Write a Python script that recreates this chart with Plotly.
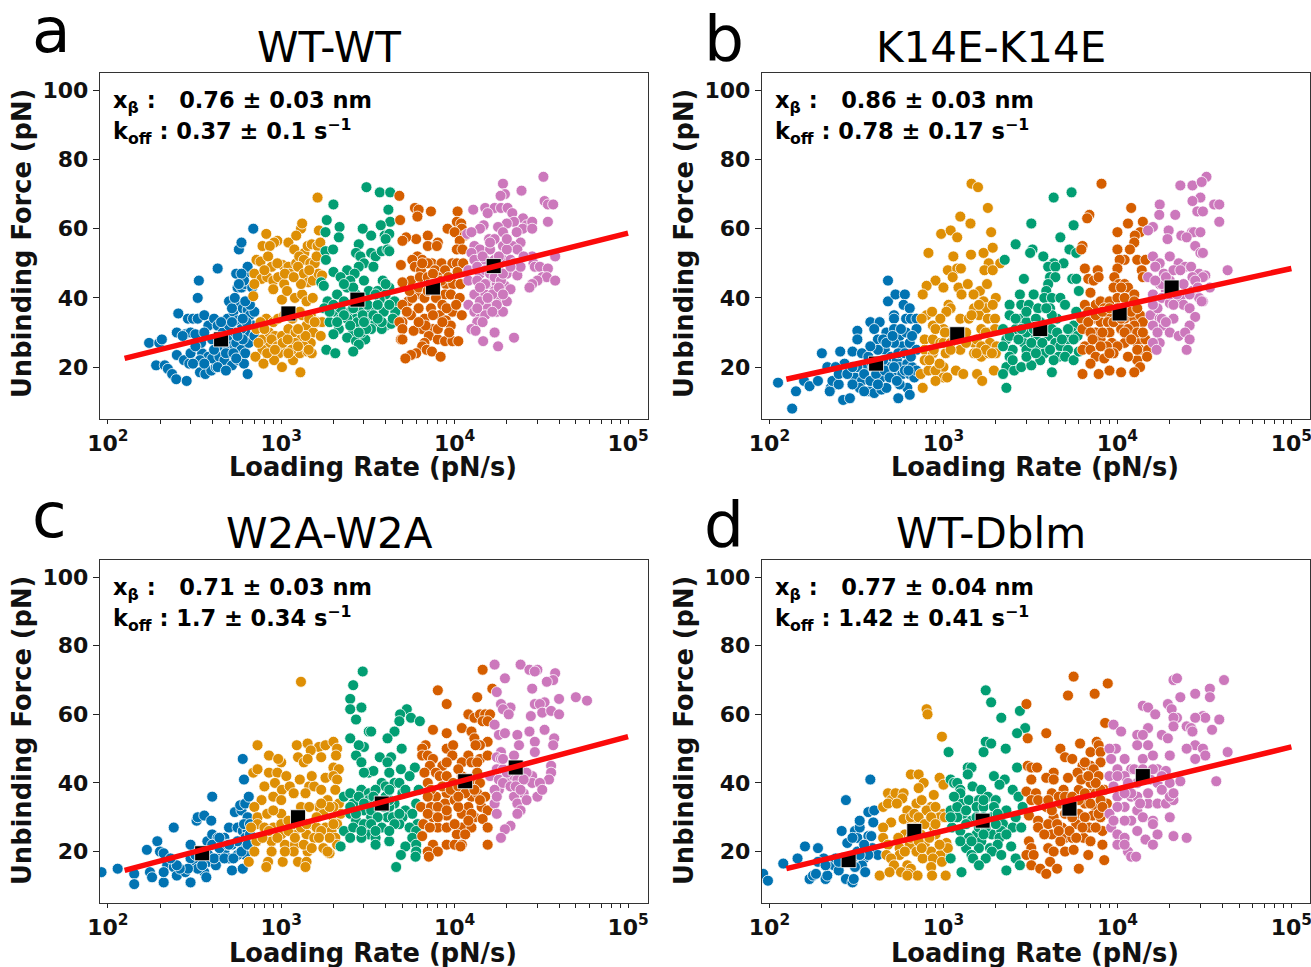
import plotly.graph_objects as go

COLORS = ["#0173b2", "#de8f05", "#029e73", "#d55e00", "#cc78bc"]
PANEL_TITLES = ["WT-WT", "K14E-K14E", "W2A-W2A", "WT-Dblm"]
PANEL_LETTERS = ["a", "b", "c", "d"]
XB_TEXT = ["0.76 ± 0.03 nm", "0.86 ± 0.03 nm", "0.71 ± 0.03 nm", "0.77 ± 0.04 nm"]
KOFF_TEXT = ["0.37 ± 0.1", "0.78 ± 0.17", "1.7 ± 0.34", "1.42 ± 0.41"]

A_BLUE = [(173,27),(198,27),(205,28),(190,20.5),(213,20.5),(222,19.5),(235,18),(248,16.5),(285,16),(250,23.5),(250,30),(255,35.5),(290,34),(310,34),(330,34),(360,35),(330,40),(335,45),(430,48.5),(570,54),(590,56),(690,60),(280,29.5),(300,30),(320,29.5),(275,22),(295,21),(340,18.5),(365,18),(395,19),(420,20),(350,24),(345,27),(380,23),(400,22.5),(440,23),(470,22),(520,20.5),(565,22),(610,21),(640,18),(380,32),(410,34),(430,32),(490,34),(500,39),(530,36),(560,33.5),(580,38),(600,37),(640,36.5),(660,35),(700,36),(560,43),(590,43),(620,44),(550,47),(620,47),(640,49),(610,45),(460,30),(490,28),(510,26),(550,27),(590,25),(620,24),(650,27),(670,30),(620,30),(590,31),(540,30),(500,32),(470,26),(430,26),(400,28),(360,30),(520,37),(680,43),(690,32),(700,29),(300,24),(320,26),(340,22),(360,21),(410,25),(450,28),(480,24),(530,24),(550,22.5),(600,28),(630,33),(560,29),(520,33),(450,33),(270,29),(430,20),(480,19),(310,21),(600,34),(660,38),(540,40),(620,39),(590,47),(570,44)]
A_ORANGE = [(1620,69),(1300,60),(1320,61.5),(1650,59.5),(820,58.5),(950,56.5),(910,56),(1100,56),(1220,58),(1190,54),(780,55),(860,55),(1360,53),(1420,55),(1500,55.5),(1620,55),(1680,56),(720,51),(760,50.5),(840,52),(880,49),(1020,49.5),(1100,49),(1220,50),(1270,52),(1350,51),(1470,50),(1560,50),(700,47),(770,45.5),(830,46),(900,45),(960,46),(1040,44),(1120,47),(1250,49),(1350,47),(1430,44.5),(1520,45),(1640,47),(1720,46.5),(700,44),(690,40.5),(900,42.5),(1010,39.5),(1080,42),(1200,40),(1320,41),(1400,39),(1520,40),(820,34),(900,33),(960,34),(1040,35),(1160,34),(1320,35),(1480,35),(1620,33),(1720,33),(720,31),(780,28),(850,30),(920,29),(1010,29),(1100,31),(1210,30),(1300,28),(1400,32),(1530,30),(1690,29),(1480,27),(1350,26),(1200,27),(1050,25),(970,24),(860,26),(780,25),(710,23),(790,21),(910,22),(1010,20),(1170,22),(1280,24),(1420,24.5),(1500,24),(1290,18.5),(1440,25),(760,33),(800,31),(880,28),(950,26),(1020,27),(1090,28),(1150,25),(1250,26),(1380,29),(1450,34),(1560,33),(740,27),(830,24),(920,25),(1100,24),(1250,31),(1050,47),(950,50),(800,48),(1300,44),(1450,48),(1600,52),(1180,46),(1280,36)]
A_GREEN = [(3100,72),(3700,70.5),(4250,70.5),(2000,67),(4150,65.5),(1830,62.5),(2170,60.5),(4250,62),(3750,61),(2950,60),(1800,59),(2150,57.5),(3300,58),(3950,58),(4200,58.5),(4000,57),(2800,55.5),(1800,53.5),(1990,54),(2700,53),(2860,52),(3300,53),(3500,52),(3800,53.5),(4100,54),(4200,53.5),(1810,51),(3000,50),(2800,49),(2000,47.5),(3400,49),(2400,48),(2650,47),(2200,46),(1700,44.5),(1760,43.5),(2500,45),(3000,45),(3850,45),(4200,43),(2400,43),(2100,41),(1850,39),(2700,41),(3200,42),(3600,42),(4000,41),(4500,39),(3700,39.5),(2300,39),(2900,38),(1770,37),(2050,36),(2500,36),(2850,36),(3300,36),(3900,36),(4550,36),(2200,34),(2700,34),(3100,33),(3500,33),(4000,32),(4300,32.5),(1900,33),(2150,31),(2600,30),(3300,31),(3800,31),(2000,29.5),(2400,28.5),(2700,27.5),(3050,28),(2800,26.5),(1820,25),(2050,24),(2600,24.5),(2200,37),(2400,34),(2600,37),(2750,33),(2950,35),(3150,38),(3400,35),(3600,38),(3800,33),(4200,38),(4400,34),(2500,32),(2900,30),(3100,31),(2300,35),(2100,33),(3500,41),(4000,44),(2600,43),(2300,44),(3000,33),(2800,30),(3600,34),(2000,38),(1900,36)]
A_VERM = [(4800,69.5),(4850,62.5),(5900,66),(6200,65.5),(7300,65),(6100,63.5),(10400,65),(10300,62),(10900,61.5),(9100,60),(11000,60),(10000,59),(6000,57),(5250,57.5),(5000,56.5),(7000,58),(8000,56),(11400,58),(10700,56.5),(7000,55),(7900,55),(10300,54),(11100,54),(6100,52),(6500,51),(5700,51),(7400,50),(8400,50),(9700,50),(10300,50),(11200,50),(4900,49.5),(5900,49),(6400,48),(7000,50),(7700,48),(8800,48),(10400,47.5),(5600,45),(6300,46),(7000,46),(8000,46),(5000,44.5),(8900,44),(9800,44),(10800,44),(6000,41),(6700,40),(5400,39),(5700,40),(8800,41),(9500,41),(10700,40),(7300,37),(5000,38),(6200,37),(8200,35),(9700,36),(11000,35),(6700,34),(8900,33.5),(5000,33),(4800,33),(5000,31),(6500,31),(7500,31),(9500,32),(5800,30.5),(7100,29),(8000,28),(6700,27),(4900,28),(5000,28),(8800,27.5),(9700,27.5),(10500,27.5),(6500,26),(6900,25),(7400,24.5),(6000,24),(5600,23.5),(5200,22.5),(8300,23),(5500,42),(6200,43),(7000,42),(7800,40),(8500,38),(7500,35),(6800,32),(5600,35),(9000,37),(10200,38),(6500,50),(7500,47),(8400,45),(9200,46),(5300,36),(7500,44),(6200,33),(8000,31),(8500,33),(9300,30)]
A_PURPLE = [(32500,75),(19000,73),(24300,71),(19500,70),(18400,69.5),(33000,68),(34500,67),(37000,67),(12800,65.5),(15000,66),(17000,66),(18500,66),(20200,66),(21500,64.5),(15500,64.5),(24800,63),(26000,61),(28000,62),(34500,62),(22000,62),(20000,61.5),(14700,61),(17800,60.5),(14000,60),(24700,60),(28000,60),(11800,58.5),(12500,59),(19000,59),(22800,59),(15800,57),(13000,55),(17000,57),(24000,56),(19000,55),(21500,55),(14000,54),(16000,54),(12500,53),(23000,54),(28000,52),(38000,52),(13000,51),(15000,51),(17000,51),(19000,51),(21000,51),(25000,52),(28500,50),(12000,48),(14000,47),(18000,48),(20000,47),(29000,49),(31000,49),(34500,48.5),(23000,46.5),(12000,45),(13500,45),(15500,44),(17500,44),(19500,43.5),(21000,42.5),(32000,46),(34000,46),(38000,45),(30000,45),(28000,44),(27000,43),(15000,41),(17000,42),(13000,41),(14000,39),(16000,39),(18000,40),(20000,39),(12000,38),(15500,37),(17500,36),(19000,36),(13000,36),(14000,34),(15000,35),(13500,33),(14500,33),(12500,31),(13200,30.5),(17000,30),(14600,27.5),(17800,26),(22000,28.5),(13500,49),(15000,48),(16000,47),(17000,46),(18500,45),(15000,44),(16500,41),(18000,43),(19000,47),(14500,52),(16000,56),(18000,52),(20000,54),(22000,50),(24000,49),(14000,43),(15500,40),(17500,38),(19000,41),(21000,49),(16500,36),(13500,37),(20000,57)]

B_BLUE = [(112,15.5),(135,8),(142,13),(158,16),(170,14.5),(190,16),(200,24),(215,20),(225,14),(222,13),(230,16),(250,15),(265,10.5),(290,11),(255,24.5),(270,21),(240,20),(300,24.5),(320,30.5),(320,28),(340,24),(310,17),(340,16),(375,13),(400,12.5),(440,13.5),(360,20),(400,20),(440,17),(380,33),(430,33),(400,31),(420,28),(460,25),(480,39),(480,45),(530,41),(600,41),(590,38),(640,37),(520,35),(520,34),(610,34),(650,34),(700,34),(470,30),(520,31),(560,29),(610,30),(700,31),(580,26),(640,27),(700,25),(500,23),(540,22),(560,20),(620,21),(660,20),(480,20),(450,22),(500,18),(530,17),(580,18),(640,18),(680,17),(470,14),(550,11),(620,14),(640,12),(340,20),(370,23),(330,14),(420,25),(700,19),(450,28),(250,18),(280,18),(300,15),(320,20),(350,18),(380,16),(410,18),(420,15),(460,19),(490,17),(520,20),(550,24),(600,24),(650,23),(660,29),(570,31),(520,27),(470,27),(600,19),(630,19),(560,15),(350,13),(300,20),(380,26),(540,16),(510,29)]
B_ORANGE = [(1450,73),(1580,72),(1800,66),(1250,63.5),(1430,61.5),(970,58.5),(1100,59.5),(1880,59),(1200,57.5),(820,53),(1140,52),(1440,52.5),(1700,53),(1920,54.5),(1820,50),(2120,50),(1060,48),(1200,48.5),(1260,48.5),(1720,48),(1920,48),(900,45),(1130,46),(800,43.5),(1000,43),(1220,43),(1380,44),(1620,42),(1780,44),(2000,40),(760,41),(1270,41),(1490,41),(1700,39),(1070,38),(1100,37),(1500,37),(1760,37),(1920,38),(800,35),(860,36),(1040,36),(1250,34),(1400,34),(1600,35),(1800,34),(1980,34),(750,34),(870,32),(1000,31),(1100,30),(1650,31),(1800,30),(1980,31),(780,28),(870,28),(960,27),(1500,27),(1700,26),(1850,27),(2020,26),(780,25),(870,24),(1030,24),(1250,25),(1500,24),(1650,23),(1820,24),(2000,24),(780,22),(1000,20),(1180,19),(1300,18),(1560,18),(1670,16),(1950,19),(740,18),(820,19),(900,19),(1000,17),(760,14),(900,31),(1000,27),(1100,27),(1200,28),(1350,30),(1550,28),(1650,26),(1750,25),(1900,24),(1100,25),(880,25),(950,21),(830,22),(900,16),(1050,17),(1550,24),(1750,30),(1600,38),(1450,35),(1350,27),(960,34),(1020,30)]
B_GREEN = [(4300,69),(5450,70.5),(3200,61.5),(5600,61),(2600,55.5),(4700,57.5),(3250,54),(5300,54),(3150,53),(5800,53),(3750,52),(2250,51),(4300,50),(4900,50),(4000,49),(4400,49),(2900,45.5),(4100,46),(4400,46),(5500,45.5),(5800,45.5),(4000,44),(3900,42),(2750,41),(3300,41),(6000,42),(3800,40),(4200,40),(4700,40),(2400,38),(2800,38),(3100,38),(3500,37),(4100,37),(5000,38),(5800,36),(2400,35),(2800,34),(4500,34),(3000,33),(5600,32),(2200,31),(2600,31),(5500,30),(3400,29),(4000,29),(2300,28),(2900,27),(4400,27),(5200,28),(5900,29),(2500,25),(3400,26),(4700,26),(5200,25),(3000,25),(2400,23),(3800,24),(4600,23),(5000,23),(5600,22),(6000,24.5),(3600,22),(2300,20),(2550,19),(2800,20),(3200,20.5),(4200,18.5),(4300,22),(2200,18),(2300,14),(2400,29),(2700,28),(3000,30),(3300,31),(3600,33),(3900,32),(4200,31),(4500,30),(4800,28),(2600,34),(3000,36),(3400,34),(2800,31),(3200,27),(3700,27),(4100,25),(3000,23),(3400,24),(4200,35),(5200,31),(5600,28),(2200,26),(2500,22),(3900,37)]
B_VERM = [(8100,73),(12000,66),(6900,64),(6700,63),(11500,61.5),(14000,62),(10000,59),(13500,59),(12600,58),(12500,56),(6300,55),(6200,54),(11800,54),(10000,54),(11000,51),(10300,51),(13000,51),(14500,51),(6500,48.5),(7700,48),(6800,45.5),(7300,45),(7800,46),(10000,48.5),(9600,46),(10200,44),(13800,48),(14000,46),(7000,41.5),(9500,43),(11000,44),(11500,43),(12500,41),(7500,38),(6500,38),(8000,39),(9000,39),(10000,40),(11000,40),(12500,39),(6800,36),(8400,37),(9000,35),(6200,34),(7300,34),(8000,33),(8800,33),(11000,34),(12500,34),(13500,35),(14000,33),(6300,31),(7500,30),(9000,30),(10500,31),(12500,32),(8000,28),(6500,26),(9300,27),(11000,27),(13000,27),(14500,28),(6300,25),(7000,25),(10000,26),(13500,25),(15000,25),(7500,23),(8400,22.5),(7000,21),(13000,22),(14800,23),(11500,23),(13500,20),(6300,18),(7800,18),(9000,19),(10500,18.5),(12500,18.5),(6800,33),(7500,35),(8200,36),(9000,37),(10000,37),(11000,37),(12000,36),(13000,37),(7000,30),(8200,30),(9500,33),(10500,34),(11500,31),(13000,30),(7200,28),(8700,26),(9500,24),(11000,30),(12000,28),(13000,25),(14000,30),(9000,24),(8000,26),(10500,43)]
B_PURPLE = [(32500,75),(23000,72.5),(27000,72.5),(30500,73.5),(30000,69),(27000,68),(17500,67),(36000,67),(38500,67),(21500,64),(17400,64),(28800,65),(31000,65),(16000,60.5),(15000,59.5),(38500,62),(19700,59.5),(23300,58),(26800,59),(27500,59),(30000,59),(19400,57),(25000,57.5),(28000,55),(30000,53),(31000,53),(16000,52),(20000,52),(17500,50),(16500,49),(22500,50),(24500,49),(26500,49),(29500,47),(43000,48),(18500,47),(21000,48),(32000,46.5),(15000,46),(17500,44),(20000,45),(24000,44),(31000,46),(19000,42),(27000,42),(16000,41),(18000,40),(34000,43),(23000,40),(29500,40),(31000,39),(20000,38.5),(24000,38),(26000,37),(28000,34.5),(15500,35),(17500,34),(18500,32),(21000,34),(16000,32),(26000,32),(20000,30),(22500,29),(24500,30),(26000,28),(17500,27),(16000,27),(16800,25),(25000,25),(30500,39),(17000,37),(18000,44),(19000,46),(20000,41),(21000,43),(22000,41),(18000,34),(19000,33),(17000,30),(16000,38),(16500,45),(23000,48),(27000,46),(28000,45),(26000,41),(29000,43),(21000,38)]

C_BLUE = [(92,14),(114,15),(142,13.5),(142,10.5),(168,20.5),(175,14),(180,12.5),(193,23),(200,20),(210,19.5),(210,11),(220,16),(210,14),(240,15.5),(240,27),(250,13),(280,14),(300,22),(310,16),(300,11),(325,29),(330,30),(360,30.5),(395,29),(360,14),(370,12.5),(380,17),(340,20),(375,23),(400,25),(430,24),(500,27),(470,24),(520,22),(540,31.5),(590,32),(580,33.5),(620,34),(650,36),(400,36),(600,47),(610,41),(560,27),(600,26),(640,26),(640,30),(580,23),(620,24),(660,25),(470,20),(500,18),(430,18),(520,14.5),(600,15),(620,19),(560,19),(350,19),(370,20),(400,22),(320,17),(420,16),(610,28),(300,18),(330,15),(350,16),(380,19),(410,18),(440,21),(470,18),(490,22),(530,18),(560,23),(590,20),(640,22),(290,15),(320,19),(260,15),(440,24),(500,22),(660,28),(250,16),(230,18)]
C_ORANGE = [(1300,69.5),(730,51),(850,48),(1000,46),(960,47),(1230,51),(1420,51.5),(1650,50.5),(1480,49.5),(1800,51),(2000,52),(2100,50),(2070,48),(1250,47.5),(1350,46),(1420,47),(1700,47.5),(2000,44.5),(2150,44),(690,43),(730,44),(850,43),(950,43),(1070,42),(1280,41),(1800,41.5),(2000,42),(2100,41),(800,39),(920,40),(1010,38),(1120,39),(1180,37),(900,36),(1450,39),(1550,39),(1700,38),(2050,38),(1380,37),(770,35),(1000,35),(1850,35),(2150,34),(1650,33),(700,33),(1300,33),(1450,33),(730,30),(830,31),(1000,31),(1750,31),(2000,30),(2200,31),(730,28),(900,27),(1000,28),(1200,26),(1500,28),(1800,27),(2100,28),(670,27),(1000,25),(1400,25),(1950,26),(2050,24),(720,23),(880,23),(1050,22),(1200,22),(1550,24),(1750,21),(1900,19.5),(2100,22),(700,20),(880,20),(1180,20),(1420,20),(1850,20),(650,17),(840,17),(1020,17),(1250,17),(1400,17),(820,15.5),(1380,15.5),(800,27),(850,26),(950,24),(1100,26),(1200,28),(1300,27),(1400,28),(1600,27),(1700,26),(1900,24),(2000,33),(1900,33),(1100,29),(900,32),(1600,30),(1050,20),(1200,24),(1350,22),(1650,24),(1500,21),(2000,28),(780,24),(1700,34),(1500,42)]
C_GREEN = [(2950,72.5),(2600,68.5),(2500,64.5),(2900,62),(2500,61.5),(5300,61.5),(4850,60),(5600,59),(2700,58.5),(4800,58),(6300,58),(3200,55),(3300,55),(4500,55),(2500,53),(3000,50.5),(4100,53),(2800,51),(4950,50),(2700,48),(3700,47.5),(4300,47.5),(4100,46),(2900,46),(5900,44.5),(3200,43),(3400,43.5),(3000,43),(4200,43),(4900,44),(5500,42),(3800,40),(4000,39),(4500,40),(4800,40),(2300,36),(2500,37),(2900,38),(3200,37),(3500,38),(5000,37),(6200,38),(2800,34),(3200,35),(4500,34),(6000,34),(2500,31),(3000,32),(4200,33),(5200,32),(5700,31),(2700,29),(3300,30),(4100,30),(5000,30),(6100,28),(2300,26),(2600,27),(3200,25),(3800,27),(4800,28),(5500,27),(6000,26),(2500,24),(2900,24),(3500,24),(4200,23),(5700,24),(6000,22),(3500,22),(5200,21.5),(6000,20),(2200,21.5),(5950,18.5),(4900,19),(4600,15.5),(2600,34),(2800,36),(3000,34),(3400,36),(3600,34),(3900,33),(3300,32),(3600,30),(4200,35),(4000,36),(4200,38),(2700,31),(3000,28),(3300,28),(3500,26),(4400,30),(4500,28),(2500,33),(5200,38),(4800,31),(2900,26),(4200,26)]
C_VERM = [(14500,73),(8000,67),(16500,67.5),(13500,65),(9000,63),(12000,60),(13000,59),(14000,60),(15000,60),(16000,60),(14500,58),(15500,58),(11000,56),(7500,55.5),(9000,54.5),(12500,55),(13000,53),(15500,52),(14000,51),(6800,51),(6500,50),(9000,50),(9800,51),(13200,51),(6500,48),(7000,48),(7500,47),(9700,48),(12000,48),(14000,47),(15500,48),(7200,45),(8500,45),(11000,46),(12500,46),(13500,46),(6700,43),(7800,43),(8200,42),(9000,42),(11000,42),(13500,42),(7000,40),(9800,40),(12500,40),(14000,40),(9000,37),(7800,36),(12500,36),(13500,37),(15000,36),(6400,33),(7300,33),(8800,34),(10000,35),(12000,33),(14300,33),(15500,32),(7500,30),(9000,30.5),(11000,31),(13000,30),(14500,29.5),(6600,28),(8000,27),(9000,27),(11000,27),(12500,27),(15500,27),(6500,24.5),(10300,25),(11500,25),(7500,22),(9000,22),(10000,22),(11000,22),(15500,22),(7000,20),(8000,20),(10800,21.5),(7100,18.5),(7300,38),(8500,39),(9500,38),(10500,39),(11500,37),(13000,38),(7000,36),(8000,33),(9000,32),(10500,33),(12500,31),(14000,35),(7000,31),(8000,30),(10000,28),(12000,29),(13500,43),(10500,44),(9000,46),(7200,27),(10500,36)]
C_PURPLE = [(17000,74.5),(24000,74.5),(27000,73),(30000,73),(29000,72.5),(38000,72),(19500,70.5),(37000,70),(34000,69.5),(28000,67.5),(17500,66.5),(50000,65),(58000,64),(40000,64.5),(18500,63),(29000,63),(33000,63.5),(31000,63),(21000,62),(19000,61.5),(32000,60.5),(36000,61),(40000,60),(20500,60),(27500,59.5),(17000,57),(18000,54),(19500,54.5),(23000,54),(27000,55),(33000,55.5),(37500,53),(37000,51),(23500,51),(29000,52),(18500,49),(29000,49),(17500,47.5),(18500,47),(22000,48),(36000,45),(21000,44),(26000,42),(28000,42),(36000,43),(35000,41),(16000,42),(18000,41),(20000,41),(22000,42),(28000,40),(31000,40),(18000,38),(17000,38),(23000,37),(25000,37),(30000,36),(32000,38),(22000,36),(23000,34),(17000,34),(24000,32),(23000,31),(17500,31),(21000,27.5),(19500,26.5),(18500,24),(26000,35),(17500,44),(19000,44),(20000,43),(22000,44),(24000,44),(26000,43),(19000,40),(21000,39),(23000,41),(25000,41),(17500,36),(22500,39),(24000,38),(19000,47)]

D_BLUE = [(92,13.5),(98,11.5),(120,16.5),(145,18),(160,21.5),(190,21),(170,12),(178,13),(185,13.5),(205,18),(210,12),(215,13),(235,16),(250,14.5),(275,12),(300,11),(305,12),(275,35),(260,26),(310,26),(320,24),(330,27),(330,29),(280,22.5),(300,24),(370,31.5),(400,32),(395,28.5),(370,24.5),(385,24.5),(390,21),(420,19),(350,18),(370,19),(300,18),(340,16),(355,14),(310,15.5),(380,41),(240,18),(190,17),(210,16),(270,18),(320,20),(350,22),(250,17),(330,19)]
D_ORANGE = [(800,61.5),(810,60),(980,53.5),(650,42.5),(720,42.5),(950,41.5),(770,40),(1000,39.5),(720,38.5),(480,37),(500,35),(530,37),(590,37),(580,35.5),(880,36.5),(450,33),(480,34),(540,34),(620,32),(700,34),(750,35),(850,33),(800,32),(900,33),(1000,31),(590,29.5),(950,30),(1020,30),(500,28.5),(450,27),(660,28),(690,27),(880,27),(450,24),(600,25),(740,25),(900,25),(1040,22.5),(480,22),(560,21),(640,22),(780,22),(1000,20),(470,19),(560,19),(700,20),(850,20),(960,19),(1060,21),(500,18),(620,16),(760,18),(870,18),(980,17),(520,16),(650,15),(850,15.5),(430,13),(490,14),(570,14),(630,13.5),(710,13),(860,13),(1030,13),(620,13),(650,30),(680,31),(720,30),(780,28),(850,30),(900,28),(550,24),(650,24),(720,23),(830,24),(950,22),(600,20),(750,21)]
D_GREEN = [(1750,67),(1880,63.5),(2150,59),(2750,61),(2950,56),(2650,54.5),(1750,52),(1880,51.5),(1070,49),(1700,49),(2280,50),(1380,44.5),(1450,44.5),(2650,44.5),(1380,42.5),(1100,41),(1150,40),(1200,40),(1950,42),(2250,41),(1250,38),(1470,39),(1650,38),(2100,39.5),(1250,36),(2500,38),(2700,36),(1250,34),(1400,35),(1600,35),(1800,36),(2000,35),(1550,33),(1700,33),(1950,33),(2300,32),(1100,32),(1300,31),(1200,30),(1450,29),(1700,30),(2200,28),(2850,33),(2600,30),(1120,27),(1250,26),(1550,25),(1900,25),(2150,26),(2500,27),(2800,27),(1400,24),(1650,23),(2100,24),(1350,21),(1600,21),(1850,21),(2050,22),(2450,21.5),(1450,19),(1900,20),(1100,18),(1480,18),(1750,18),(2150,19),(2600,18),(1600,16),(2750,16),(1270,14),(2300,14.5),(1200,33),(1350,32),(1550,30),(1350,28),(1900,30),(2050,31),(1600,27),(1750,27),(2000,28),(1700,25),(1250,23),(1450,23),(1250,37),(1700,35),(2300,25),(1100,30),(1150,36)]
D_VERM = [(5600,71),(5200,65.5),(7400,66),(8800,69),(3000,63),(8500,57.5),(3900,54.5),(3050,53),(6100,51.5),(7600,52),(7800,51),(4700,50),(5000,47.5),(5500,47),(7000,49),(8000,49),(3050,45),(3200,44.5),(3450,44.5),(6300,45),(7000,45),(8000,46),(7300,44),(4300,43),(5200,41.5),(5900,43),(7800,42),(3200,41),(3900,41.5),(4300,41),(4900,38),(8400,38),(6000,38),(3000,37.5),(3400,37),(4200,37),(7000,37),(3200,35),(3500,35),(8700,34),(3900,33),(4700,34),(6500,34),(7500,33),(3100,30.5),(3500,29),(4300,30),(6000,31),(7200,30.5),(8000,30),(3500,27),(4000,28),(4800,27),(5800,28),(6900,27),(8200,26),(4200,25),(5000,24),(5500,24),(6400,24),(8200,22),(3100,23),(3200,21),(4000,21),(4700,23),(7000,23),(4300,20),(3000,19),(3300,19),(5000,20),(5600,20.5),(6800,19),(3200,16),(3600,15),(4100,17),(4500,15),(3900,13.5),(6000,15),(8400,17.5),(4000,35),(4600,36),(5000,36),(5500,36),(6000,35),(6500,37),(7000,34),(7500,37),(8000,38),(4200,32),(5000,31),(5500,30),(6500,30),(8000,35),(7000,40),(7500,40),(6200,41),(6800,42),(4500,28),(5300,26),(6300,27),(7500,27),(5800,24),(4600,26),(7800,31),(6500,46),(3800,25),(8200,33)]
D_PURPLE = [(21000,70),(22000,70.5),(41000,70),(34000,67.5),(28000,66),(23000,65),(14000,62.5),(15000,62),(34000,65),(19500,63),(20500,61.5),(16500,60),(31000,59.5),(32000,59),(22000,59),(21000,59),(28000,59),(38500,58.5),(9500,57),(15000,56),(21000,56.5),(25000,56.5),(26500,56),(35000,55.5),(10500,55),(27000,55),(13000,54),(14000,54),(18000,54),(19500,53),(28000,51),(9800,50),(9000,50),(13000,51),(15000,51),(25000,50),(31000,50),(32000,48),(43000,49),(9200,47),(11000,47),(14000,47),(16000,48),(20000,48),(28000,47),(10000,44),(12000,44),(17000,44),(19000,43.5),(9000,42),(11000,42),(13000,40),(20000,40),(23000,40.5),(37000,40.5),(9500,39),(10000,36),(12000,36),(13000,36),(15000,34),(17000,34),(19000,34),(21000,35),(9000,31),(11000,33),(13000,32),(14000,30),(16000,29),(20000,30),(12000,29),(9200,27),(10000,25),(11000,24),(13000,26),(17000,25),(16000,28),(21000,24.5),(25000,24),(14500,23.5),(16000,22),(10000,22),(11500,20),(12000,18.5),(12800,18.5),(11000,22),(10000,42),(11500,40),(12500,44),(14000,42),(15500,41),(17000,40),(12000,37),(13500,34),(15000,37),(11000,37),(10000,33),(14000,44),(16000,44),(18000,42),(20000,36),(21000,37),(11000,29),(9500,29),(18000,38)]

CLUSTERS = [
    [A_BLUE, A_ORANGE, A_GREEN, A_VERM, A_PURPLE],
    [B_BLUE, B_ORANGE, B_GREEN, B_VERM, B_PURPLE],
    [C_BLUE, C_ORANGE, C_GREEN, C_VERM, C_PURPLE],
    [D_BLUE, D_ORANGE, D_GREEN, D_VERM, D_PURPLE],
]
MEANS = [
    [(450,28),(1100,35.5),(2750,39.5),(7500,43),(16800,49.2)],
    [(410,21),(1200,29.5),(3600,31),(10300,35.5),(20500,43)],
    [(350,19.5),(1250,30),(3800,34),(11500,40.5),(22500,44.5)],
    [(285,17.5),(680,26),(1680,29),(5300,32.5),(14000,42)],
]
FIT_X = [125, 100000]
FIT_Y = [[22.5, 58.7], [16.5, 48.5], [14.5, 53.5], [15, 50.5]]

# x tick positions: decades carry a label, the digits between them do not
TICK_VALS = [100, 200, 300, 400, 500, 600, 700, 800, 900,
             1000, 2000, 3000, 4000, 5000, 6000, 7000, 8000, 9000,
             10000, 20000, 30000, 40000, 50000, 60000, 70000, 80000, 90000, 100000]
DECADE_LABELS = {100: "<b>10<sup>2</sup></b>", 1000: "<b>10<sup>3</sup></b>",
                 10000: "<b>10<sup>4</sup></b>", 100000: "<b>10<sup>5</sup></b>"}
TICK_TEXT = [DECADE_LABELS.get(v, "") for v in TICK_VALS]

W, H = 1311, 967
XDOM = [(100, 648), (762, 1310), (100, 648), (762, 1310)]
YDOM = [(73, 419), (73, 419), (560, 903), (560, 903)]
XRANGE = [(1.955, 5.115), (1.957, 5.107), (1.955, 5.115), (1.957, 5.107)]
LETTER_POS = [(30, 30), (702, 38), (30, 515), (702, 524)]
TITLE_X = [329, 991, 329, 991]
TITLE_Y = [48, 48, 533, 533]
XLAB_POS = [(373, 467), (1035, 467), (373, 953), (1035, 953)]
YLAB_POS = [(22, 244), (684, 244), (22, 731), (684, 731)]
FONT = "DejaVu Sans"
TXT = "#111111"

fig = go.Figure()
anns = []
def note(px, py, text, size, xanchor="left", angle=0, color="black"):
    anns.append(dict(x=px / W, y=1 - py / H, xref="paper", yref="paper", xanchor=xanchor, yanchor="middle",
                     showarrow=False, textangle=angle, text=text, font=dict(family=FONT, size=size, color=color)))

for i in range(4):
    s = "" if i == 0 else str(i + 1)
    xa, ya = f"x{s}", f"y{s}"
    for pts, c in zip(CLUSTERS[i], COLORS):
        fig.add_trace(go.Scatter(x=[p[0] for p in pts], y=[p[1] for p in pts], mode="markers",
                                 marker=dict(color=c, size=11, line=dict(color="white", width=0.8)),
                                 xaxis=xa, yaxis=ya, showlegend=False))
    fig.add_trace(go.Scatter(x=[p[0] for p in MEANS[i]], y=[p[1] for p in MEANS[i]], mode="markers",
                             marker=dict(color="black", size=15, symbol="square", line=dict(color="white", width=0.8)),
                             xaxis=xa, yaxis=ya, showlegend=False))
    fig.add_trace(go.Scatter(x=FIT_X, y=FIT_Y[i], mode="lines", line=dict(color="#fb0a0a", width=5.5),
                             xaxis=xa, yaxis=ya, showlegend=False))
    ax = dict(domain=[XDOM[i][0] / W, XDOM[i][1] / W], type="log", range=list(XRANGE[i]),
              tickmode="array", tickvals=TICK_VALS, ticktext=TICK_TEXT,
              tickfont=dict(family=FONT, size=22, color=TXT),
              ticks="outside", ticklen=4, tickwidth=1.2, tickcolor="#222", ticklabeloverflow="allow",
              showgrid=False, zeroline=False, showline=True, linecolor="#333", linewidth=1.3, mirror=True,
              automargin=False, anchor=ya)
    ay = dict(domain=[1 - YDOM[i][1] / H, 1 - YDOM[i][0] / H], range=[5, 105],
              tickvals=[20, 40, 60, 80, 100], ticktext=[f"<b>{v}</b>" for v in (20, 40, 60, 80, 100)],
              tickfont=dict(family=FONT, size=22, color=TXT),
              ticks="outside", ticklen=6, tickwidth=1.3, tickcolor="#222",
              showgrid=False, zeroline=False, showline=True, linecolor="#333", linewidth=1.3, mirror=True,
              automargin=False, anchor=xa)
    fig.update_layout({f"xaxis{s}": ax, f"yaxis{s}": ay})
    px0, py0 = XDOM[i][0] + 11, YDOM[i][0] + 28.5
    note(px0, py0, f"<b>x<sub>β</sub> :\u00a0\u00a0 {XB_TEXT[i]}</b>", 22.5)
    note(px0, py0 + 30, f"<b>k<sub>off</sub> : {KOFF_TEXT[i]} s<sup>−1</sup></b>", 22.5)
    note(TITLE_X[i], TITLE_Y[i], PANEL_TITLES[i], 42, "center")
    note(LETTER_POS[i][0], LETTER_POS[i][1], PANEL_LETTERS[i], 63)
    note(XLAB_POS[i][0], XLAB_POS[i][1], "<b>Loading Rate (pN/s)</b>", 25.7, "center", color=TXT)
    note(YLAB_POS[i][0], YLAB_POS[i][1], "<b>Unbinding Force (pN)</b>", 25.7, "center", angle=-90, color=TXT)

fig.update_layout(width=W, height=H, margin=dict(l=0, r=0, t=0, b=0), plot_bgcolor="white", paper_bgcolor="white",
                  annotations=anns, hovermode=False)
fig.write_html("out.html", config=dict(displayModeBar=False), post_script="document.body.style.margin='0';")
